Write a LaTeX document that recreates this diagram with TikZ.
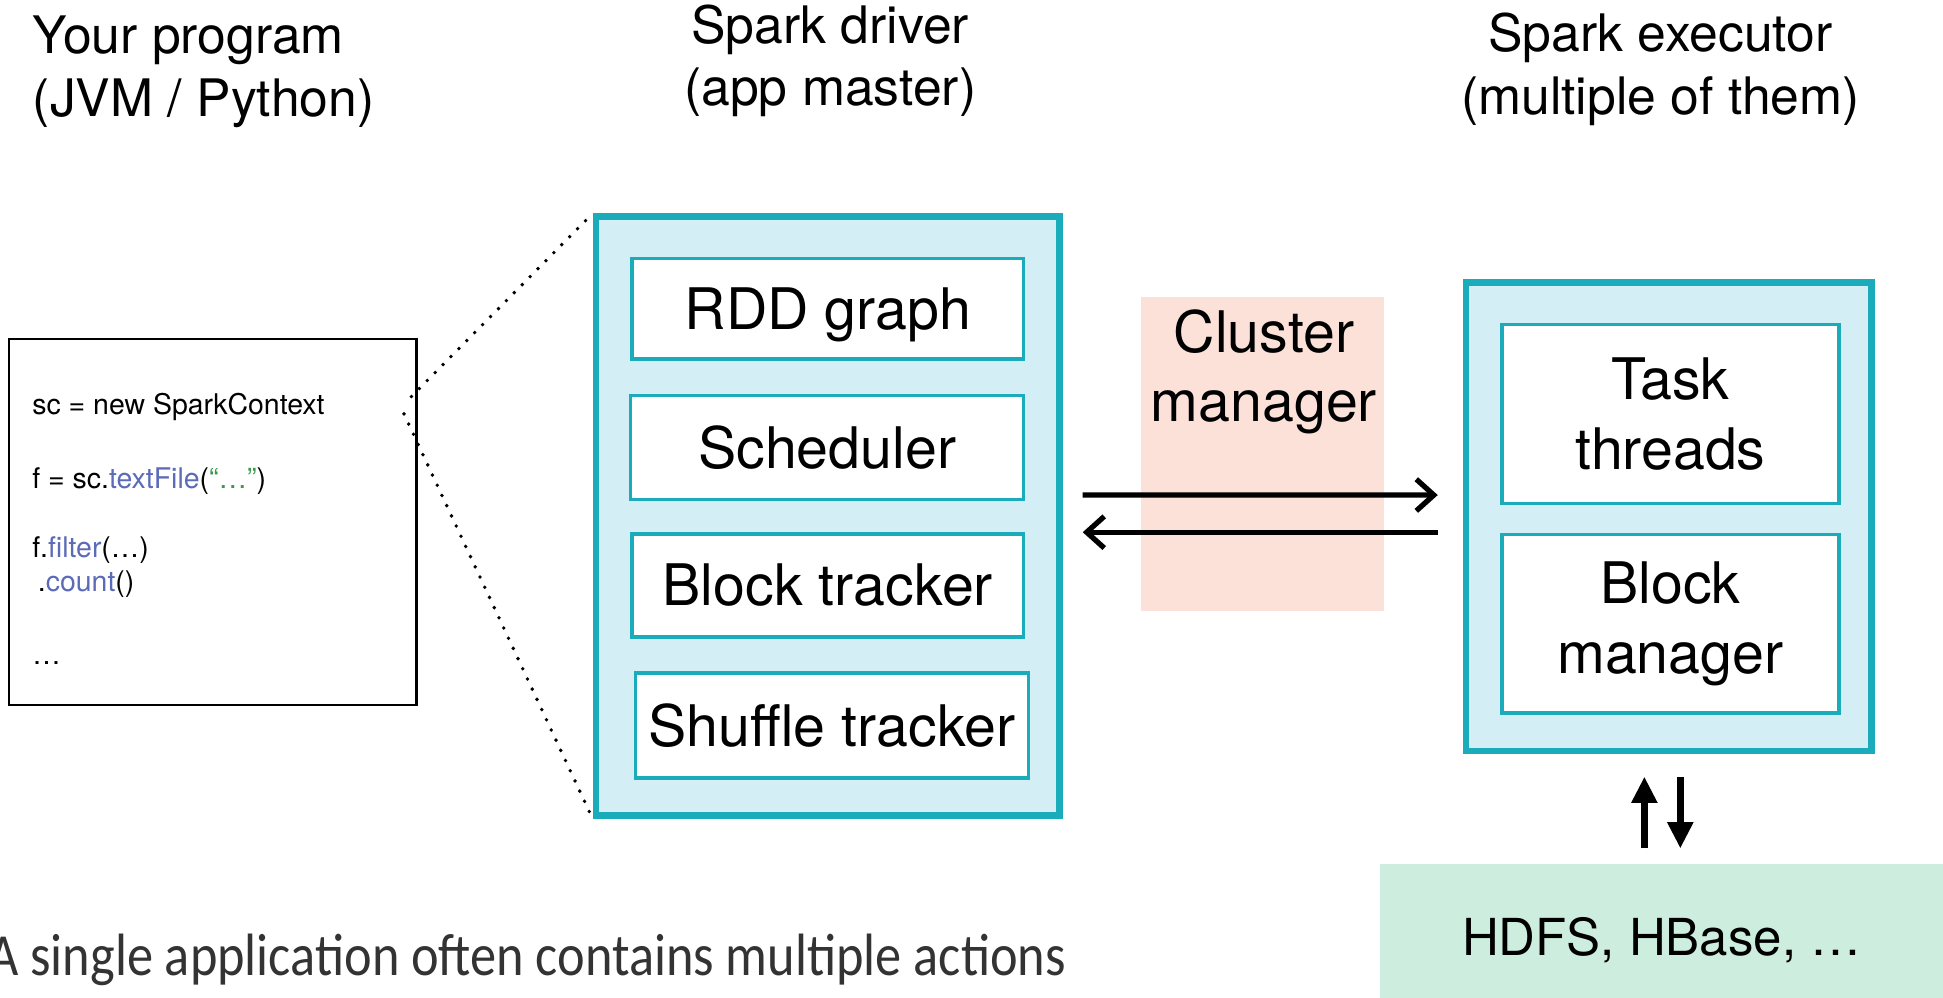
\documentclass[tikz,border=0pt]{standalone}
\usepackage{fontspec}
\setmainfont{TeX Gyre Heros}
\newfontfamily\notefont[FakeStretch=0.876]{Carlito}
\usetikzlibrary{arrows.meta,calc}

\definecolor{sparkteal}{HTML}{1AACBB}
\definecolor{drvfill}{HTML}{D3EEF5}
\definecolor{clusterpink}{HTML}{FBE1D8}
\definecolor{storegreen}{HTML}{CDEEDF}
\definecolor{codeblue}{HTML}{5B6BB8}
\definecolor{codegreen}{HTML}{3A9A4C}

\tikzset{
  header/.style={font=\fontsize{14.7}{17.7}\selectfont, align=center, inner sep=0pt},
  outerbox/.style={draw=sparkteal, line width=1.9pt, fill=drvfill, inner sep=0pt},
  innerbox/.style={draw=sparkteal, line width=1pt, fill=white, inner sep=0pt,
    align=center, font=\fontsize{16.3}{19.8}\selectfont},
  codeline/.style={anchor=base west, inner sep=0pt, font=\fontsize{8.1}{9}\selectfont},
  flow/.style={line width=1.5pt, -{Straight Barb[length=5pt,width=9pt]}},
  storeflow/.style={line width=2pt, -{Triangle[length=7.5pt,width=7pt]}},
  zoomline/.style={line width=1.1pt, dash pattern=on 0pt off 3.2pt, line cap=round}
}

\begin{document}
\begin{tikzpicture}[x=0.012392cm, y=-0.012392cm]
        \useasboundingbox (0,0) rectangle (1568,805);

        % titles
        \node[header, align=left, anchor=west] (progtitle) at (26,58) {Your program\\(JVM / Python)};
        \node[header] (drvtitle) at (670,49) {Spark driver\\(app master)};
        \node[header] (exectitle) at (1340,56) {Spark executor\\(multiple of them)};

        % user program
        \node[draw, line width=0.6pt, minimum width=4.071cm, minimum height=3.661cm] (prog) at (171.8,421.3) {};
        \node[codeline] (code1) at (25.5,334.9) {sc = new SparkContext};
        \node[codeline] (code2) at (25.5,394) {f = sc.\textcolor{codeblue}{textFile}(\textcolor{codegreen}{“…”})};
        \node[codeline] (code3) at (25.5,449.6) {f.\textcolor{codeblue}{filter}(…)};
        \node[codeline] (code4) at (30,477.6) {.\textcolor{codeblue}{count}()};
        \node[codeline] (code5) at (25.5,536.6) {…};

        % driver
        \node[outerbox, minimum width=4.635cm, minimum height=5.985cm] (drv) at (668,416.5) {};
        \node[innerbox, text depth=0pt, minimum width=3.916cm, minimum height=1.004cm] (rdd) at (668,249) {RDD graph};
        \node[innerbox, minimum width=3.928cm, minimum height=1.041cm] (sched) at (667.5,361) {Scheduler};
        \node[innerbox, minimum width=3.916cm, minimum height=1.029cm] (blocktr) at (668,472.5) {Block tracker};
        \node[innerbox, minimum width=3.928cm, minimum height=1.053cm] (shuffle) at (671.5,585.5) {Shuffle tracker};

        \coordinate (zoomup) at (332,320);
        \coordinate (zoomdn) at (326,334);
        \draw[zoomline] (zoomup) -- (drv.north west);
        \draw[zoomline] (zoomdn) -- (drv.south west);

        % cluster manager
        \node[fill=clusterpink, minimum width=2.429cm, minimum height=3.135cm, inner sep=0pt] (cluster) at (1019,366.5) {};
        \node[innerbox, draw=none, fill=none, anchor=north] (clusterlbl) at ($(cluster.north)+(1,9)$) {Cluster\\manager};

        % executor
        \node[outerbox, minimum width=4.052cm, minimum height=4.684cm] (exec) at (1346.5,417) {};
        \node[innerbox, minimum width=3.371cm, minimum height=1.790cm] (task) at (1348,334) {Task\\threads};
        \node[innerbox, minimum width=3.371cm, minimum height=1.784cm] (blockmgr) at (1348,503.5) {Block\\manager};

        \draw[flow] ($(drv.east)+(16,-17)$) -- ($(exec.west)+(-20,-17.5)$);
        \draw[flow] ($(exec.west)+(-20,12.5)$) -- ($(drv.east)+(16,13)$);

        % storage
        \node[fill=storegreen, minimum width=5.626cm, minimum height=1.462cm, inner sep=0pt, text depth=0pt,
          font=\fontsize{14.5}{17}\selectfont] (hdfs) at (1341,756) {HDFS, HBase, …};
        \draw[storeflow] ($(exec.south)+(-19.5,76)$) -- ($(exec.south)+(-19.5,18)$);
        \draw[storeflow] ($(exec.south)+(9.5,18)$) -- ($(exec.south)+(9.5,76)$);

        \node[anchor=base west, inner sep=0pt, font=\notefont\fontsize{17}{20}\selectfont, text=black!80] (note) at (-10,787.6)
          {A single application often contains multiple actions};
\end{tikzpicture}
\end{document}
